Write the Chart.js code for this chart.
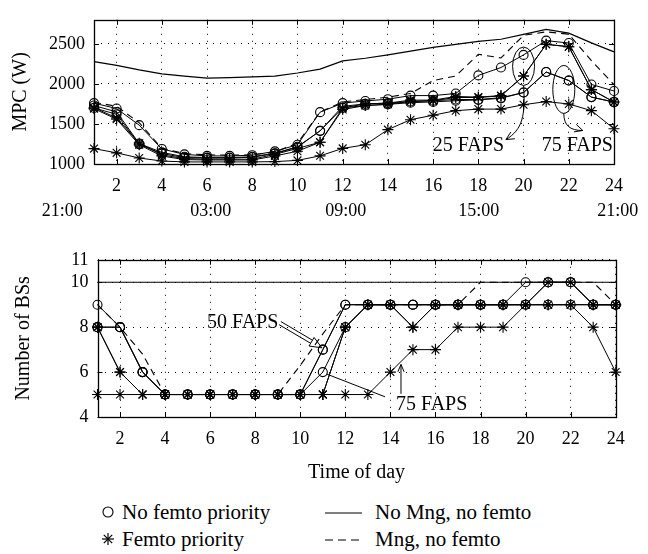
<!DOCTYPE html>
<html><head><meta charset="utf-8">
<script src="https://cdn.jsdelivr.net/npm/chart.js@4.4.0/dist/chart.umd.min.js"></script>
<style>
html,body{margin:0;padding:0;background:#fff;}
#wrap{position:relative;width:648px;height:554px;overflow:hidden;font-family:"Liberation Serif",serif;background:#fff;}
canvas{position:absolute;left:0;}
#c1{top:0;}
#c2{top:240px;}
.leg{position:absolute;display:flex;align-items:center;font-size:21px;color:#000;white-space:nowrap;line-height:24px;height:24px;}
.leg svg{display:block;}
</style></head>
<body><div id="wrap">
<canvas id="c1" width="648" height="240"></canvas>
<canvas id="c2" width="648" height="250"></canvas>
<div class="leg" style="left:100px;top:500px"><svg width="22" height="20"><circle cx="8" cy="10" r="5" fill="none" stroke="#000" stroke-width="1.1"/></svg><span>No femto priority</span></div>
<div class="leg" style="left:100px;top:527px"><svg width="22" height="20"><g stroke="#000" stroke-width="1.2"><line x1="2" y1="10" x2="14" y2="10"/><line x1="8" y1="4" x2="8" y2="16"/><line x1="3.8" y1="5.8" x2="12.2" y2="14.2"/><line x1="12.2" y1="5.8" x2="3.8" y2="14.2"/></g></svg><span>Femto priority</span></div>
<div class="leg" style="left:325px;top:500px"><svg width="50" height="20"><line x1="0" y1="11" x2="37" y2="11" stroke="#000" stroke-width="1.2"/></svg><span>No Mng, no femto</span></div>
<div class="leg" style="left:325px;top:527px"><svg width="50" height="20"><line x1="0" y1="11" x2="37" y2="11" stroke="#000" stroke-width="1.2" stroke-dasharray="8,5"/></svg><span>Mng, no femto</span></div>
</div>
<script>
// ---------- data ----------
const hours = [1,2,3,4,5,6,7,8,9,10,11,12,13,14,15,16,17,18,19,20,21,22,23,24];
const xTicks = [2,4,6,8,10,12,14,16,18,20,22,24];
const timeLabels = ['21:00','03:00','09:00','15:00','21:00'];
const timePos = [-0.4, 6.16, 12.14, 18.02, 24.17];
const mpcTicks = [1000,1500,2000,2500];
const bsTicks = [4,6,8,10,11];

// MPC (W)
const mpcNoMng   = [2279,2230,2174,2125,2098,2072,2078,2087,2098,2136,2185,2287,2320,2362,2410,2456,2494,2531,2557,2617,2681,2633,2512,2400];
const mpcMng     = [1770,1720,1515,1196,1130,1115,1110,1115,1150,1260,1650,1775,1805,1835,1880,2042,2098,2369,2324,2606,2650,2620,2290,1990];
const mpcC25     = [1760,1692,1485,1188,1120,1101,1101,1110,1158,1240,1647,1760,1787,1809,1854,1854,1880,2106,2204,2362,2540,2510,1993,1911];
const mpcC50     = [1730,1650,1255,1145,1090,1080,1080,1090,1135,1215,1414,1720,1750,1760,1780,1790,1805,1805,1827,1892,2148,2042,1835,1773];
const mpcC75     = [1700,1620,1245,1130,1080,1075,1075,1085,1130,1210,1414,1700,1730,1745,1765,1775,1790,1800,1820,1892,2148,2042,1835,1773];
const mpcS25     = [1703,1575,1260,1113,1068,1060,1060,1060,1120,1195,1271,1700,1750,1760,1797,1797,1843,1835,1854,2098,2494,2464,1929,1773];
const mpcS50     = [1690,1560,1240,1100,1055,1050,1050,1050,1100,1160,1271,1680,1730,1745,1780,1790,1830,1830,1850,2098,2494,2464,1929,1773];
const mpcS75     = [1192,1139,1075,1037,1026,1026,1026,1026,1030,1045,1102,1195,1240,1429,1553,1609,1666,1685,1685,1740,1779,1749,1666,1440];

// Number of BSs
const bsNoMng = [10,10,10,10,10,10,10,10,10,10,10,10,10,10,10,10,10,10,10,10,10,10,10,10];
const bsMng   = [9,8,6.8,5,5,5,5,5,5,6.3,7.7,9,9,9,9,9,9,10,10,10,10,10,10,9];
const bsC25   = [9,8,6,5,5,5,5,5,5,5,7,9,9,9,9,9,9,9,9,10,10,10,9,9];
const bsC50   = [8,8,6,5,5,5,5,5,5,5,7,9,9,9,9,9,9,9,9,9,10,10,9,9];
const bsC75   = [8,8,6,5,5,5,5,5,5,5,6,8,9,9,9,9,9,9,9,9,9,9,9,9];
const bsS25   = [8,6,5,5,5,5,5,5,5,5,5,8,9,9,8,9,9,9,9,9,10,10,9,9];
const bsS50   = [8,6,5,5,5,5,5,5,5,5,5,8,9,9,8,9,9,9,9,9,9,9,9,9];
const bsS75   = [5,5,5,5,5,5,5,5,5,5,5,5,5,6,7,7,8,8,8,9,9,9,8,6];

// ---------- helpers ----------
const FAM = "'Liberation Serif', 'Times New Roman', serif";
function ds(label, vals, marker, dash, width){
  return {
    label, data: hours.map((h,i)=>({x:h, y:vals[i]})),
    borderColor:'#000', backgroundColor:'rgba(0,0,0,0)',
    borderWidth: width || 1, borderDash: dash || [],
    pointStyle: marker || 'circle',
    pointRadius: marker ? (marker==='circle' ? 4.5 : 5.5) : 0,
    pointHoverRadius: 0,
    pointBorderColor:'#000', pointBackgroundColor:'rgba(0,0,0,0)', pointBorderWidth:1.1,
    tension:0, clip:false
  };
}
function setTicks(arr){ return a => { a.ticks = arr.map(v=>({value:v})); }; }

const frame = {
  id:'frame',
  afterDraw(chart){
    const {ctx, chartArea:a, scales:{x,y}} = chart;
    ctx.save();
    ctx.strokeStyle='#000';
    ctx.lineWidth=1;
    ctx.beginPath();
    x.ticks.forEach(t=>{
      const p = Math.round(x.getPixelForValue(t.value))+0.5;
      ctx.moveTo(p,a.bottom); ctx.lineTo(p,a.bottom-5);
      ctx.moveTo(p,a.top); ctx.lineTo(p,a.top+5);
    });
    y.ticks.forEach(t=>{
      const p = Math.round(y.getPixelForValue(t.value))+0.5;
      ctx.moveTo(a.left,p); ctx.lineTo(a.left+5,p);
      ctx.moveTo(a.right,p); ctx.lineTo(a.right-5,p);
    });
    ctx.stroke();
    ctx.lineWidth=1.3;
    ctx.strokeRect(Math.round(a.left)+0.5, Math.round(a.top)+0.5, Math.round(a.right-a.left), Math.round(a.bottom-a.top));
    ctx.restore();
  }
};
function arrowHead(ctx, x, y, ang, len, spread){
  ctx.beginPath();
  ctx.moveTo(x - len*Math.cos(ang-spread), y - len*Math.sin(ang-spread));
  ctx.lineTo(x, y);
  ctx.lineTo(x - len*Math.cos(ang+spread), y - len*Math.sin(ang+spread));
  ctx.stroke();
}
const topNotes = {
  id:'topNotes',
  afterDatasetsDraw(chart){
    const {ctx, scales:{x,y}} = chart;
    const X = v=>x.getPixelForValue(v), Y = v=>y.getPixelForValue(v);
    ctx.save();
    ctx.strokeStyle='#000'; ctx.fillStyle='#000'; ctx.lineWidth=1;
    ctx.beginPath();
    ctx.ellipse(X(20), Y(2220), 11, (Y(1980)-Y(2460))/2, 0, 0, Math.PI*2);
    ctx.stroke();
    let s = {x:X(20), y:Y(1980)}, e = {x:X(19.22), y:Y(1305)};
    let c1 = {x:s.x+2, y:s.y+30}, c2 = {x:s.x-1, y:e.y-10};
    ctx.beginPath(); ctx.moveTo(s.x,s.y); ctx.bezierCurveTo(c1.x,c1.y,c2.x,c2.y,e.x,e.y); ctx.stroke();
    arrowHead(ctx, e.x, e.y, Math.atan2(e.y-c2.y, e.x-c2.x), 9, 0.45);
    ctx.beginPath();
    ctx.ellipse(X(21.78), Y(1931), 11, (Y(1632)-Y(2230))/2, 0, 0, Math.PI*2);
    ctx.stroke();
    s = {x:X(21.78), y:Y(1632)}; e = {x:X(22.62), y:Y(1418)};
    c1 = {x:s.x, y:s.y+12}; c2 = {x:s.x+6, y:e.y};
    ctx.beginPath(); ctx.moveTo(s.x,s.y); ctx.bezierCurveTo(c1.x,c1.y,c2.x,c2.y,e.x,e.y); ctx.stroke();
    arrowHead(ctx, e.x, e.y, Math.atan2(e.y-c2.y, e.x-c2.x)+0.3, 9, 0.45);
    ctx.font = "20px " + FAM;
    ctx.textAlign='left'; ctx.textBaseline='alphabetic';
    ctx.fillText('25 FAPS', X(15.98), Y(1158));
    ctx.fillText('75 FAPS', X(20.8), Y(1158));
    ctx.restore();
  }
};
const botNotes = {
  id:'botNotes',
  afterDatasetsDraw(chart){
    const {ctx, scales:{x,y}} = chart;
    const X = v=>x.getPixelForValue(v), Y = v=>y.getPixelForValue(v);
    ctx.save();
    ctx.strokeStyle='#000'; ctx.fillStyle='#000'; ctx.lineWidth=1;
    ctx.font = "20px " + FAM;
    ctx.textAlign='left'; ctx.textBaseline='alphabetic';
    ctx.fillText('50 FAPS', X(5.86), Y(7.96));
    ctx.fillText('75 FAPS', X(14.25), Y(4.33));
    const a = {x:X(9.1), y:Y(8.18)}, b = {x:X(10.96), y:Y(7.08)};
    const L = Math.hypot(b.x-a.x, b.y-a.y);
    const u = {x:(b.x-a.x)/L, y:(b.y-a.y)/L}, n = {x:-u.y, y:u.x};
    const base = {x:b.x-u.x*12, y:b.y-u.y*12};
    ctx.beginPath();
    ctx.moveTo(a.x+n.x*1.8, a.y+n.y*1.8); ctx.lineTo(base.x+n.x*1.8, base.y+n.y*1.8);
    ctx.moveTo(a.x-n.x*1.8, a.y-n.y*1.8); ctx.lineTo(base.x-n.x*1.8, base.y-n.y*1.8);
    ctx.moveTo(base.x+n.x*5, base.y+n.y*5); ctx.lineTo(b.x,b.y); ctx.lineTo(base.x-n.x*5, base.y-n.y*5); ctx.closePath();
    ctx.stroke();
    ctx.beginPath(); ctx.moveTo(X(11)+4, Y(6)+2); ctx.lineTo(X(13.76), Y(4.9)); ctx.stroke();
    const p = X(14.47);
    ctx.beginPath(); ctx.moveTo(p, Y(5.03)); ctx.lineTo(p, Y(6.34)); ctx.stroke();
    arrowHead(ctx, p, Y(6.34), -Math.PI/2, 8, 0.4);
    ctx.restore();
  }
};

function axisX(extra){
  return Object.assign({
    type:'linear', min:1, max:24, weight:0,
    afterBuildTicks: setTicks(xTicks),
    grid:{color:'#000', lineWidth:1, drawTicks:false},
    border:{display:false, dash:[1,6]},
    ticks:{font:{family:FAM, size:18}, color:'#000', padding:11, autoSkip:false, maxRotation:0, callback:v=>String(v)}
  }, extra);
}

// ---------- top chart ----------
new Chart(document.getElementById('c1'), {
  type:'line',
  data:{datasets:[
    ds('No Mng, no femto', mpcNoMng, null, [], 1.2),
    ds('Mng, no femto', mpcMng, null, [7,5], 1.1),
    ds('No femto priority, 25 FAPS', mpcC25, 'circle'),
    ds('No femto priority, 50 FAPS', mpcC50, 'circle'),
    ds('No femto priority, 75 FAPS', mpcC75, 'circle'),
    ds('Femto priority, 25 FAPS', mpcS25, 'star'),
    ds('Femto priority, 50 FAPS', mpcS50, 'star'),
    ds('Femto priority, 75 FAPS', mpcS75, 'star')
  ]},
  options:{
    responsive:false, animation:false, devicePixelRatio:1,
    layout:{padding:{top:4, right:34, left:0, bottom:0}},
    plugins:{legend:{display:false}, tooltip:{enabled:false}},
    scales:{
      x: axisX({afterFit:a=>{a.height=30;}}),
      x2:{type:'linear', position:'bottom', min:1, max:24, weight:1,
        afterBuildTicks: setTicks(timePos), afterFit:a=>{a.height=46;},
        grid:{display:false, drawTicks:false}, border:{display:false},
        ticks:{font:{family:FAM, size:18}, color:'#000', padding:6, autoSkip:false, maxRotation:0, callback:(v,i)=>timeLabels[i]}},
      y:{type:'linear', min:1000, max:2800,
        afterBuildTicks: setTicks(mpcTicks), afterFit:a=>{a.width=94;},
        grid:{color:'#000', lineWidth:1, drawTicks:false},
        border:{display:false, dash:[1,6]},
        ticks:{font:{family:FAM, size:18}, color:'#000', padding:9, callback:v=>String(v)},
        title:{display:true, text:'MPC (W)', color:'#000', font:{family:FAM, size:20}, padding:{top:9, bottom:0}}}
    }
  },
  plugins:[frame, topNotes]
});

// ---------- bottom chart ----------
new Chart(document.getElementById('c2'), {
  type:'line',
  data:{datasets:[
    ds('No Mng, no femto', bsNoMng, null, [], 1.2),
    ds('Mng, no femto', bsMng, null, [7,5], 1.1),
    ds('No femto priority, 25 FAPS', bsC25, 'circle'),
    ds('No femto priority, 50 FAPS', bsC50, 'circle'),
    ds('No femto priority, 75 FAPS', bsC75, 'circle'),
    ds('Femto priority, 25 FAPS', bsS25, 'star'),
    ds('Femto priority, 50 FAPS', bsS50, 'star'),
    ds('Femto priority, 75 FAPS', bsS75, 'star')
  ]},
  options:{
    responsive:false, animation:false, devicePixelRatio:1,
    layout:{padding:{top:12, right:32.3, left:0, bottom:0}},
    plugins:{legend:{display:false}, tooltip:{enabled:false}},
    scales:{
      x: axisX({afterFit:a=>{a.height=73;},
        title:{display:true, text:'Time of day', color:'#000', font:{family:FAM, size:20}, padding:{top:0, bottom:5}}}),
      y:{type:'linear', min:4, max:11,
        afterBuildTicks: setTicks(bsTicks), afterFit:a=>{a.width=97.5;},
        grid:{color:'#000', lineWidth:1, drawTicks:false},
        border:{display:false, dash:[1,6]},
        ticks:{font:{family:FAM, size:18}, color:'#000', padding:9, callback:v=>String(v)},
        title:{display:true, text:'Number of BSs', color:'#000', font:{family:FAM, size:20}, padding:{top:12, bottom:0}}}
    }
  },
  plugins:[frame, botNotes]
});
</script>
</body></html>
